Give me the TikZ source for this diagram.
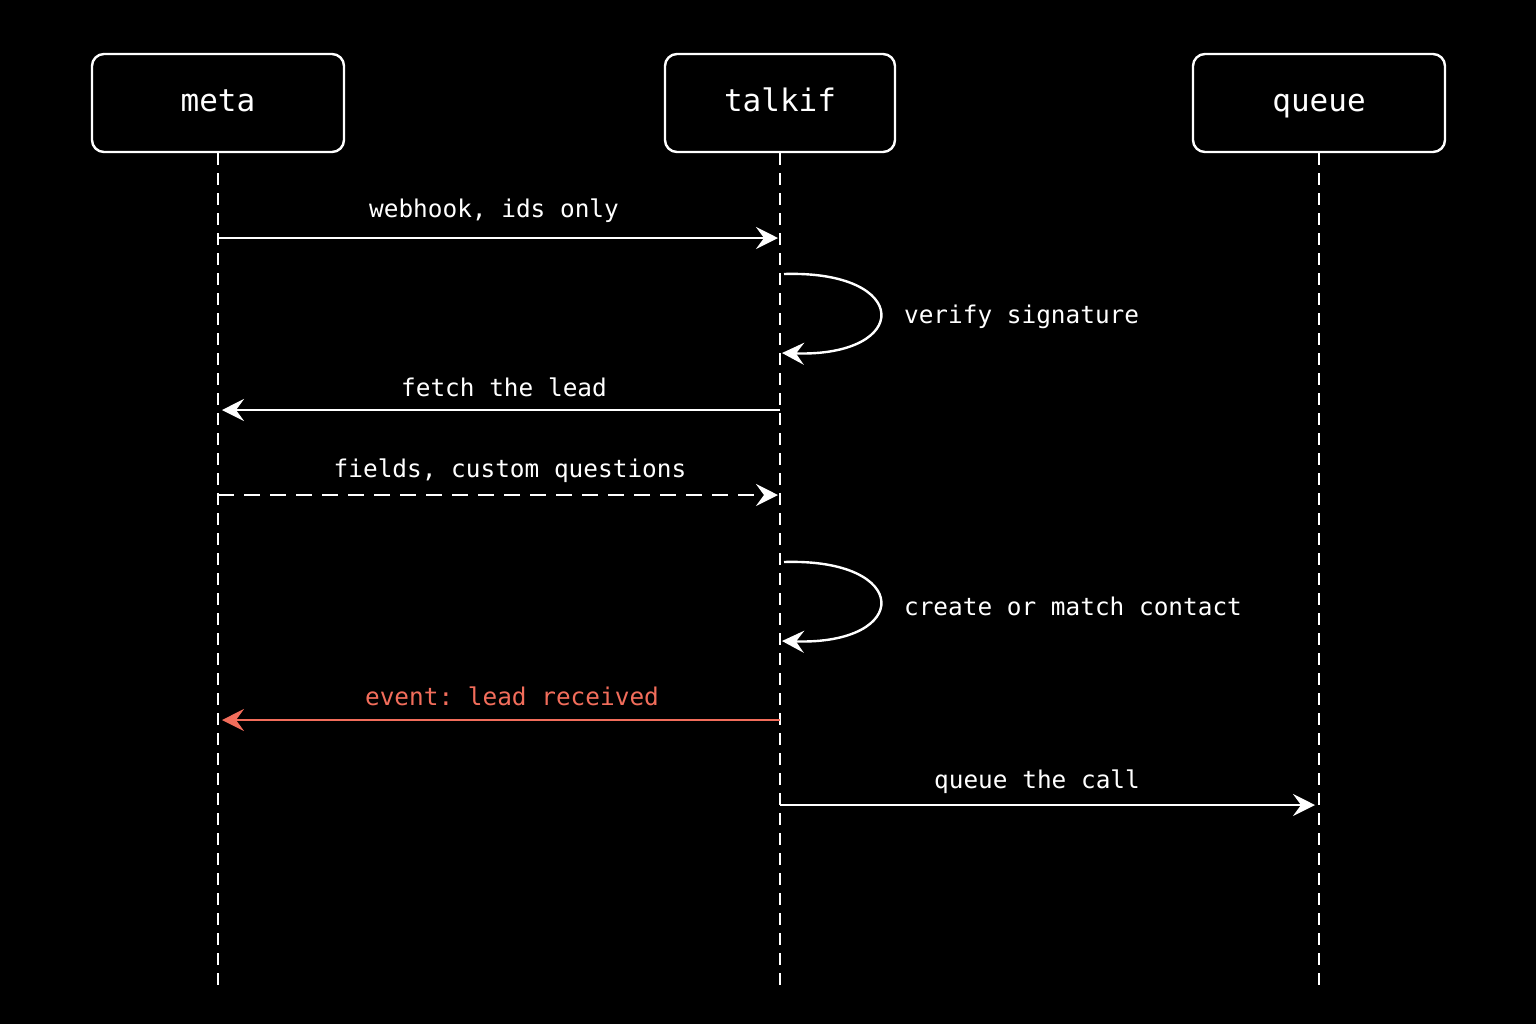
\documentclass[tikz,border=0pt]{standalone}
\usepackage{fontspec}
\setmonofont{DejaVu Sans Mono}
\usetikzlibrary{arrows.meta}
\definecolor{alert}{HTML}{F26D5B}
\tikzset{
  actor/.style = {draw=white, line width=1.2pt, rounded corners=6pt, fill=black,
    minimum width=126pt, minimum height=49pt, text=white, text height=11pt, text depth=3pt,
    font=\ttfamily\fontsize{15.5}{18}\selectfont},
  life/.style = {white, line width=1.1pt, dash pattern=on 6pt off 4pt},
  msg/.style = {white, line width=1.2pt, -{Stealth[length=11pt, width=11pt, inset=4pt]}},
  lbl/.style = {text=white, font=\ttfamily\fontsize{12.2}{15}\selectfont},
}
\begin{document}
\begin{tikzpicture}[x=0.5pt, y=-0.5pt]
    \fill [black] (0, 0) rectangle (1536, 1024);
    % actors
    \node [actor, minimum width=126pt] (meta) at (218, 103) {meta};
    \node [actor, minimum width=115pt] (talkif) at (780, 103) {talkif};
    \node [actor, minimum width=126pt] (queue) at (1319, 103) {queue};
    \coordinate (metaend) at (218, 985);
    \coordinate (talkifend) at (780, 985);
    \coordinate (queueend) at (1319, 985);
    \draw [life] (meta.south) -- (metaend);
    \draw [life] (talkif.south) -- (talkifend);
    \draw [life] (queue.south) -- (queueend);
    % messages
    \draw [msg] (218, 238) -- (778, 238);
    \node [lbl] at (494, 211) {webhook, ids only};
    \draw [msg] (784, 274) .. controls (912, 270) and (912, 357) .. (782, 353);
    \node [lbl, anchor=west] at (897, 317) {verify signature};
    \draw [msg] (780, 410) -- (222, 410);
    \node [lbl] at (504, 387) {fetch the lead};
    \draw [msg, dash pattern=on 8pt off 5pt] (218, 495) -- (778, 495);
    \node [lbl] at (510, 471) {fields, custom questions};
    \draw [msg] (784, 562) .. controls (912, 558) and (912, 645) .. (782, 641);
    \node [lbl, anchor=west] at (897, 606) {create or match contact};
    \draw [msg, alert] (780, 720) -- (222, 720);
    \node [lbl, text=alert] at (512, 696) {event: lead received};
    \draw [msg] (780, 805) -- (1315, 805);
    \node [lbl] at (1037, 782) {queue the call};
\end{tikzpicture}
\end{document}
